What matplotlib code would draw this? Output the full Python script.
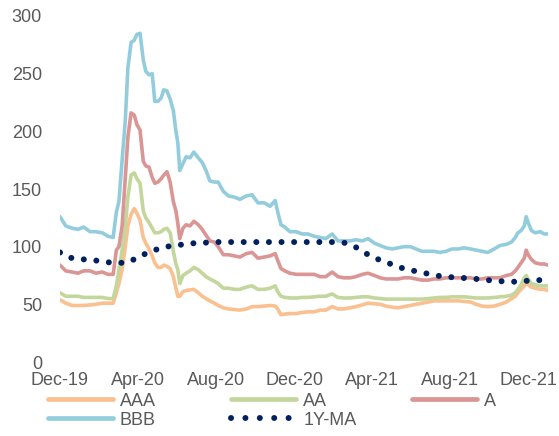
import matplotlib
matplotlib.use("Agg")
import matplotlib.pyplot as plt
from matplotlib.lines import Line2D
import pandas as pd

plt.rcParams['font.family'] = ['Liberation Sans', 'DejaVu Sans']

dates = [
    "2019-12-01", "2019-12-10", "2019-12-20", "2019-12-29", "2020-01-07", "2020-01-17", "2020-01-26", "2020-02-05", "2020-02-14", "2020-02-22",
    "2020-02-27", "2020-03-02", "2020-03-07", "2020-03-12", "2020-03-16", "2020-03-21", "2020-03-26", "2020-03-30", "2020-04-04", "2020-04-09",
    "2020-04-13", "2020-04-18", "2020-04-23", "2020-04-27", "2020-05-02", "2020-05-07", "2020-05-11", "2020-05-16", "2020-05-21", "2020-05-26",
    "2020-05-30", "2020-06-02", "2020-06-05", "2020-06-10", "2020-06-15", "2020-06-21", "2020-06-27", "2020-07-04", "2020-07-10", "2020-07-16",
    "2020-07-22", "2020-07-29", "2020-08-04", "2020-08-12", "2020-08-20", "2020-08-29", "2020-09-07", "2020-09-17", "2020-09-26", "2020-10-05",
    "2020-10-15", "2020-10-24", "2020-11-01", "2020-11-05", "2020-11-10", "2020-11-16", "2020-11-24", "2020-12-04", "2020-12-13", "2020-12-22",
    "2021-01-01", "2021-01-10", "2021-01-19", "2021-01-29", "2021-02-07", "2021-02-16", "2021-02-26", "2021-03-07", "2021-03-17", "2021-03-26",
    "2021-04-05", "2021-04-14", "2021-04-23", "2021-05-03", "2021-05-12", "2021-05-21", "2021-05-31", "2021-06-09", "2021-06-18", "2021-06-28",
    "2021-07-07", "2021-07-16", "2021-07-26", "2021-08-04", "2021-08-14", "2021-08-23", "2021-09-02", "2021-09-11", "2021-09-20", "2021-09-29",
    "2021-10-09", "2021-10-18", "2021-10-28", "2021-11-05", "2021-11-11", "2021-11-15", "2021-11-20", "2021-11-25", "2021-11-28", "2021-12-01",
    "2021-12-06", "2021-12-12", "2021-12-20", "2021-12-26", "2022-01-01",
]

aaa = [
    54, 51, 49, 49, 49, 49.5, 50, 51, 51, 51,
    60, 68, 80, 100, 118, 128, 133, 129, 123, 108,
    103, 98, 92, 86, 82, 82, 84, 83, 81, 74,
    64, 57, 57, 61, 62, 62.5, 63, 60, 57, 55,
    53, 51, 49, 47, 46, 45.5, 45, 46, 48, 48,
    48.5, 49, 48.5, 46, 41, 41.5, 42, 42, 43, 43.5,
    43.5, 45, 45, 48, 46, 46, 47, 48, 49.5, 51,
    50.5, 50, 48.5, 47.5, 47, 48, 49, 50, 51, 52,
    53, 53, 53, 53, 53, 52.5, 52, 50, 48.5, 48,
    48.5, 50, 52, 55, 57, 60, 63, 66, 68.5, 67,
    65, 64, 63, 63, 62,
]

aa = [
    60, 57, 57, 57, 56, 56, 56, 56, 55, 55,
    66, 80, 97, 118, 143, 162, 164, 159, 155, 131,
    125, 121, 116, 112, 112, 113, 115, 116, 112, 96,
    85, 80, 68, 75, 77, 79, 82, 80, 77, 74,
    72, 70, 68, 64, 64, 63, 63, 65, 66, 63,
    63, 64, 66, 61, 57, 56, 55.5, 55.5, 56, 56,
    56.5, 57, 57, 59, 56, 55.5, 55.5, 56, 56.5, 56.5,
    55.5, 55, 54.5, 54.5, 54.5, 54.5, 54.5, 54.5, 54.5, 55,
    55.5, 56, 56, 56.5, 56.5, 56.5, 56, 55.5, 55.5, 55.5,
    56, 56.5, 57, 58, 60, 63, 67, 73, 75, 72,
    68, 67, 66, 66, 66,
]

a = [
    84, 79, 78, 77, 79, 79, 77, 78, 76, 76,
    97, 100, 118, 160, 195, 216, 214, 206, 201, 174,
    170, 169, 160, 155, 156, 159, 162, 165, 156, 139,
    131, 120, 107, 116, 119, 118, 122, 119, 115, 110,
    105, 104, 100, 93, 93, 92, 91, 94, 95, 90,
    91, 92, 94, 88, 81, 79, 77, 76, 76, 76,
    76, 74, 74, 78, 74, 73, 73, 74, 76, 77,
    75, 73, 72, 72, 72, 73, 73, 72, 71, 71,
    72, 72, 73, 73, 73, 73, 73, 72, 72, 73,
    73, 73, 75, 76, 79, 82, 86, 90, 97, 93,
    89, 86, 85, 85, 84,
]

bbb = [
    126, 118, 116, 115, 117, 113, 113, 112, 109, 108,
    130, 139, 175, 210, 255, 277, 279, 284, 285, 262,
    252, 249, 250, 226, 226, 229, 236, 235, 228, 218,
    200, 190, 166, 172, 178, 177, 182, 177, 173, 166,
    157, 156, 156, 148, 144, 143, 141, 144, 145, 138,
    138, 135, 140, 130, 119, 117, 113, 113, 111, 111,
    109, 108, 107, 111, 105, 105, 105, 106, 105, 107,
    103, 101, 99, 98, 99, 100, 100, 98, 96, 96,
    96, 95, 96, 98, 98, 99, 98, 97, 96, 95,
    98, 101, 102, 104, 108, 112, 114, 118, 126, 121,
    114, 112, 113, 111, 111,
]

ma_1y = [
    95, 92, 90, 89.5, 89, 88.5, 88, 87, 86.5, 86,
    86, 86, 86, 86, 87, 88, 89, 90, 91, 93,
    94, 95, 96, 97, 98, 99, 99.5, 100, 100.5, 100.5,
    101, 101, 101.5, 102, 102, 102.5, 103, 103, 103.5, 103.5,
    104, 104, 104, 104, 104, 104, 104, 104, 104, 104,
    104, 104, 104, 104, 104, 104, 104, 104, 104, 104,
    104, 104, 104, 104, 104, 103.5, 102, 99.5, 96.5, 93,
    90, 88.5, 86.5, 84.5, 82.5, 81, 80, 78.5, 77.5, 76.5,
    75.5, 74.5, 74, 73.5, 73, 72.8, 72.5, 72, 71.5, 71,
    70.5, 70, 70, 69.7, 69.6, 69.7, 70, 70.2, 70.3, 70.5,
    70.7, 71, 71, 71, 71,
]

tick_dates = ["2019-12-01", "2020-04-01", "2020-08-01", "2020-12-01",
              "2021-04-01", "2021-08-01", "2021-12-01"]
tick_labels = ["Dec-19", "Apr-20", "Aug-20", "Dec-20", "Apr-21", "Aug-21", "Dec-21"]
y_ticks = [0, 50, 100, 150, 200, 250, 300]

series_names = ["AAA", "AA", "A", "BBB"]
series_colors = ["#FAC090", "#C3D69B", "#D99694", "#93CDDD"]
ma_name = "1Y-MA"
ma_color = "#002060"
text_color = "#595959"

fig = plt.figure(figsize=(5.59, 4.36), dpi=100)
ax = fig.add_axes([60 / 559, 74 / 436, 488 / 559, 346 / 436])
x = pd.to_datetime(dates)

for vals, name, col in zip([aaa, aa, a, bbb], series_names, series_colors):
    ax.plot(x, vals, color=col, lw=2.6, solid_joinstyle='round',
            solid_capstyle='round', label=name)
ax.plot(x, ma_1y, color=ma_color, lw=4.3, linestyle=(0, (0.01, 2.1)),
        dash_capstyle='round', label=ma_name)

ax.set_ylim(0, 300)
ax.set_xlim(pd.Timestamp("2019-12-01"), pd.Timestamp("2022-01-01"))
ax.set_yticks(y_ticks)
ax.set_xticks(pd.to_datetime(tick_dates))
ax.set_xticklabels(tick_labels)
ax.tick_params(axis='both', length=0, labelsize=13, colors=text_color)
ax.tick_params(axis='y', pad=13)
ax.tick_params(axis='x', pad=7)
for s in ax.spines.values():
    s.set_visible(False)

def handle(col, dotted=False):
    if dotted:
        return Line2D([], [], color=col, lw=4.3, linestyle=(0, (0.01, 2.4)),
                      dash_capstyle='round')
    return Line2D([], [], color=col, lw=3.4, solid_capstyle='round')

groups = [
    ([handle(series_colors[0]), handle(series_colors[3])], [series_names[0], series_names[3]], 47.5),
    ([handle(series_colors[1]), handle(ma_color, True)], [series_names[1], ma_name], 231),
    ([handle(series_colors[2])], [series_names[2]], 411.5),
]
for hs, labs, px in groups:
    leg = fig.legend(hs, labs, loc='upper left', bbox_to_anchor=(px / 559, 0.0995),
                     frameon=False, fontsize=13, handlelength=3.6, handletextpad=0.4,
                     borderpad=0, borderaxespad=0, labelspacing=0.12)
    for t in leg.get_texts():
        t.set_color(text_color)

fig.savefig("out.png", dpi=100)
